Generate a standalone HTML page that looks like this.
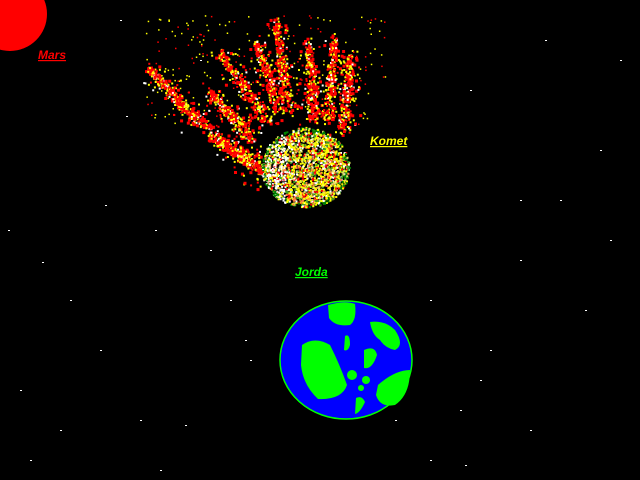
<!DOCTYPE html>
<html><head><meta charset="utf-8"><style>
html,body{margin:0;padding:0;background:#000;width:640px;height:480px;overflow:hidden}
text{font-family:"Liberation Sans",sans-serif;font-style:italic;font-weight:bold;font-size:12px;text-decoration:underline}
</style></head><body>
<svg width="640" height="480" viewBox="0 0 640 480">
<rect width="640" height="480" fill="#000"/>
<g id="stars" fill="#fff"></g>
<circle cx="10" cy="14" r="37" fill="#ff0000"/>
<text x="38" y="59" fill="#ff0000">Mars</text>
<g id="tails"></g>
<g id="head"></g>
<text x="370" y="145" fill="#ffff00">Komet</text>
<text x="295" y="276" fill="#00ff00">Jorda</text>
<g>
<ellipse cx="346" cy="360" rx="66" ry="59" fill="#0000ff" stroke="#00ff00" stroke-width="1.5"/>
<path d="M328,305 Q345,300 355,304 Q357,320 350,325 Q335,327 329,318Z" fill="#00ff00"/>
<path d="M302,345 Q315,336 330,345 Q340,365 347,385 Q342,400 318,399 Q303,385 301,365Z" fill="#00ff00"/>
<path d="M370,322 Q385,320 395,330 Q405,345 395,350 Q385,348 380,340 Q372,335 370,322Z" fill="#00ff00"/>
<path d="M345,336 Q350,333 350,345 Q348,352 344,350Z" fill="#00ff00"/>
<path d="M364,350 Q375,345 377,355 Q372,370 364,368Z" fill="#00ff00"/>
<path d="M378,385 Q395,370 410,370 Q410,395 395,405 Q380,408 376,395Z" fill="#00ff00"/>
<circle cx="352" cy="375" r="5" fill="#00ff00"/>
<circle cx="366" cy="380" r="4" fill="#00ff00"/>
<circle cx="361" cy="388" r="3" fill="#00ff00"/>
<path d="M356,398 Q362,395 365,402 Q360,413 355,414Z" fill="#00ff00"/>
</g>
</svg>
<script>
const NS="http://www.w3.org/2000/svg";
const starXs=[126,105,8,42,155,70,210,245,395,430,490,520,560,600,620,585,460,430,160,60,20,100,140,230,250,470,545,610,530,480,185,520,465,120,30,200];
const starYs=[116,205,230,262,230,300,250,340,420,300,350,260,200,150,60,310,410,460,470,430,390,350,420,300,360,90,40,240,430,380,425,200,465,20,460,60];
const fingerX1=[173,208,218,255,275,307,333,350,147,210];
const fingerY1=[100,90,50,43,20,40,37,53,67,137];
const fingerX2=[267,250,267,280,287,313,327,343,200,267];
const fingerY2=[173,137,120,110,107,120,120,130,123,173];
let seed=7;function rnd(){seed=(seed*16807)%2147483647;return seed/2147483647;}
const sg=document.getElementById('stars');
starXs.forEach((x,i)=>{const r=document.createElementNS(NS,'rect');


r.setAttribute('x',x);r.setAttribute('y',starYs[i]);r.setAttribute('width',2);r.setAttribute('height',1);sg.appendChild(r);});
function dot(g,x,y,s,c){const r=document.createElementNS(NS,'rect');r.setAttribute('x',x.toFixed(1));r.setAttribute('y',y.toFixed(1));r.setAttribute('width',s);r.setAttribute('height',s);r.setAttribute('fill',c);g.appendChild(r);}
const tg=document.getElementById('tails');
fingerX1.forEach((x1,i)=>{
 const f=document.createElementNS(NS,'g');
 
 
 const x2=fingerX2[i],y1=fingerY1[i],y2=fingerY2[i];
 for(let k=0;k<260;k++){const t=rnd();const w=3+t*3;
  const x=x1+(x2-x1)*t+(rnd()-0.5)*2*w*(k%4==0?3:1),y=y1+(y2-y1)*t+(rnd()-0.5)*2*w*(k%4==0?3:1);
  const r=rnd();const c=r<0.55?'#ff0000':r<0.9?'#ffff00':'#ffffff';
  dot(f,x,y,r<0.3?3:2,c);}
 tg.appendChild(f);
});
for(let k=0;k<250;k++){dot(tg,145+rnd()*240,15+rnd()*110,1.5,rnd()<0.6?'#ffff00':'#ff0000');}
const hg=document.getElementById('head');
const hc=['#ffff00','#ffff00','#ffff00','#ff0000','#ffffff','#ff8040','#e0e060','#40a020'];
for(let k=0;k<2200;k++){const a=rnd()*6.283,rr=Math.sqrt(rnd());
 const x=305+Math.cos(a)*rr*44,y=167+Math.sin(a)*rr*40;
 let c=hc[Math.floor(rnd()*hc.length)];
 if(x<285&&rnd()<0.4)c='#ffffff';
 if(rr>0.9&&rnd()<0.4)c='#008000';
 dot(hg,x,y,2,c);}
</script>
</body></html>
